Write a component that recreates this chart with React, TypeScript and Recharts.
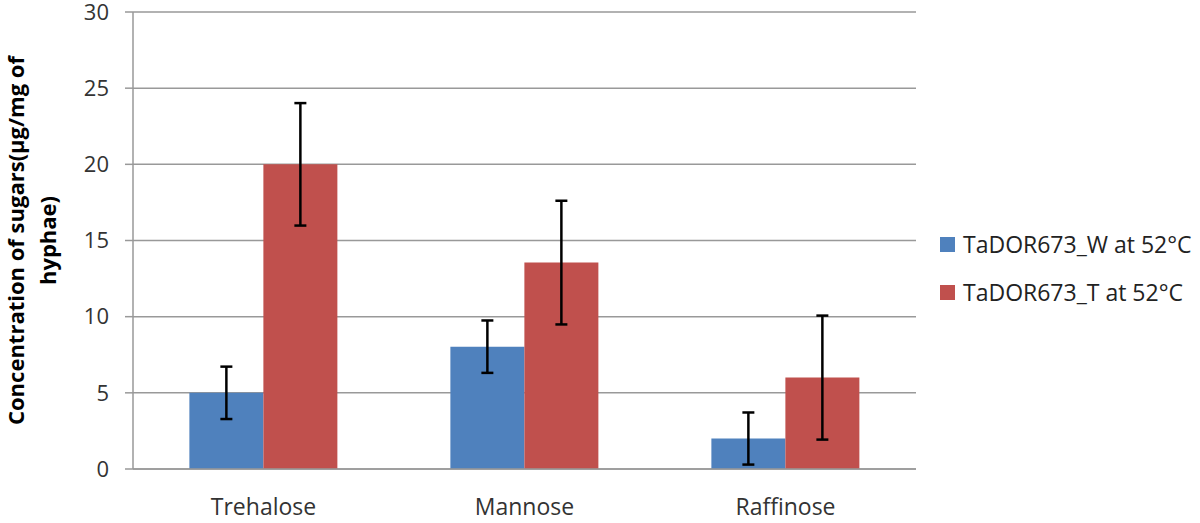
import { BarChart, Bar, XAxis, YAxis, CartesianGrid, ErrorBar } from "recharts";

const categories = ["Trehalose", "Mannose", "Raffinose"];
const wildValues = [5.0, 8.03, 2.0];
const wildErrors = [1.72, 1.72, 1.71];
const transValues = [20.0, 13.55, 6.0];
const transErrors = [4.02, 4.06, 4.07];
const yTicks = [0, 5, 10, 15, 20, 25, 30];

const seriesNames = ["TaDOR673_W at 52°C", "TaDOR673_T at 52°C"];
const colors = ["#4F81BD", "#C0504D"];

const data = categories.map((name, i) => ({
  name,
  wild: wildValues[i],
  wildErr: wildErrors[i],
  trans: transValues[i],
  transErr: transErrors[i],
}));

const font = "'Open Sans', sans-serif";

const YLabel = ({ viewBox }: any) => {
  const cy = viewBox.y + viewBox.height / 2;
  return (
    <text
      transform={`translate(33, ${cy}) rotate(-90)`}
      textAnchor="middle"
      fontFamily={font}
      fontWeight="bold"
      fontSize={22}
      fill="#000"
    >
      <tspan x={0} dy={-9}>Concentration of sugars(µg/mg of</tspan>
      <tspan x={0} dy={32}>hyphae)</tspan>
    </text>
  );
};

export default function App() {
  return (
    <div style={{ position: "absolute", left: 0, top: 0, width: 1200, height: 523, background: "#fff" }}>
      <BarChart
        width={1200}
        height={523}
        data={data}
        margin={{ top: 12, right: 284, bottom: 0, left: 0 }}
        barCategoryGap="21.6%"
        barGap={0}
      >
        <CartesianGrid vertical={false} stroke="#999" strokeWidth={1.5} />
        <XAxis
          dataKey="name"
          height={54}
          tickLine={false}
          axisLine={{ stroke: "#999", strokeWidth: 1.5 }}
          tick={{ fill: "#333", fontSize: 23, fontFamily: font }}
          tickMargin={24}
        />
        <YAxis
          width={133}
          domain={[0, 30]}
          ticks={yTicks}
          interval={0}
          tickSize={8}
          tickMargin={16}
          tickLine={{ stroke: "#999", strokeWidth: 1.5 }}
          axisLine={{ stroke: "#999", strokeWidth: 1.5 }}
          tick={{ fill: "#333", fontSize: 22, fontFamily: font }}
          label={<YLabel />}
        />
        <Bar dataKey="wild" name={seriesNames[0]} fill={colors[0]} isAnimationActive={false}>
          <ErrorBar dataKey="wildErr" width={6} stroke="#000" strokeWidth={2.5} />
        </Bar>
        <Bar dataKey="trans" name={seriesNames[1]} fill={colors[1]} isAnimationActive={false}>
          <ErrorBar dataKey="transErr" width={6} stroke="#000" strokeWidth={2.5} />
        </Bar>
      </BarChart>
      <div
        style={{
          position: "absolute",
          left: 940,
          top: 220,
          fontFamily: font,
          fontSize: 23,
          color: "#222",
          whiteSpace: "nowrap",
        }}
      >
        {seriesNames.map((s, i) => (
          <div key={s} style={{ display: "flex", alignItems: "center", height: 48 }}>
            <span style={{ width: 15, height: 15, background: colors[i], marginRight: 8 }} />
            {s}
          </div>
        ))}
      </div>
    </div>
  );
}
